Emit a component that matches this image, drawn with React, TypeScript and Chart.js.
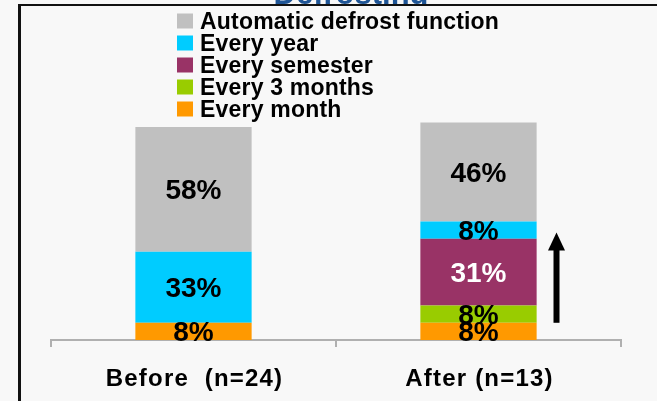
import React, { useEffect, useRef } from "react";
import { Chart, registerables } from "chart.js";

Chart.register(...registerables);

const title = "Defrosting";
const categories = ["Before  (n=24)", "After (n=13)"];
const seriesNames = ["Every month", "Every 3 months", "Every semester", "Every year", "Automatic defrost function"];
const everyMonth = [8, 8];
const every3Months = [0, 8];
const everySemester = [0, 31];
const everyYear = [33, 8];
const automaticDefrost = [58, 46];
const seriesColors = ["#FF9900", "#99CC00", "#993366", "#00CCFF", "#C0C0C0"];
const labelColors = ["#000000", "#000000", "#FFFFFF", "#000000", "#000000"];
const arrowFrom = 8;
const arrowTo = 50;

const FONT = '"Liberation Sans", Arial, Helvetica, sans-serif';

const decorPlugin = {
  id: "decor",
  beforeDraw(chart: any) {
    const ctx = chart.ctx as CanvasRenderingContext2D;
    const w = chart.width;
    const h = chart.height;
    ctx.save();
    ctx.fillStyle = "#f8f8f8";
    ctx.fillRect(0, 0, w, h);
    ctx.beginPath();
    ctx.rect(0, 0, w, 5);
    ctx.clip();
    ctx.fillStyle = "#1F5596";
    ctx.font = `bold 31px ${FONT}`;
    ctx.textAlign = "center";
    ctx.textBaseline = "alphabetic";
    ctx.fillText(title, 351, 4);
    ctx.restore();
    ctx.save();
    ctx.fillStyle = "#111111";
    ctx.fillRect(18, 4, w - 18, 2);
    ctx.fillRect(18, 4, 3, h - 4);
    ctx.restore();
  },
  afterDatasetsDraw(chart: any) {
    const ctx = chart.ctx as CanvasRenderingContext2D;
    ctx.save();
    ctx.font = `bold 28px ${FONT}`;
    ctx.textAlign = "center";
    ctx.textBaseline = "alphabetic";
    chart.data.datasets.forEach((ds: any, di: number) => {
      const meta = chart.getDatasetMeta(di);
      meta.data.forEach((bar: any, i: number) => {
        const v = ds.data[i];
        if (!v) return;
        const { x, y, base } = bar.getProps(["x", "y", "base"], true);
        const cy = (y + base) / 2;
        ctx.fillStyle = labelColors[di];
        ctx.fillText(`${v}%`, x, cy + 10);
      });
    });
    ctx.restore();
  },
  afterDraw(chart: any) {
    const ctx = chart.ctx as CanvasRenderingContext2D;
    const xs = chart.scales.x;
    const ys = chart.scales.y;
    // legend (reversed order)
    ctx.save();
    ctx.font = `bold 23px ${FONT}`;
    (ctx as any).letterSpacing = "0.2px";
    ctx.textAlign = "left";
    ctx.textBaseline = "alphabetic";
    const n = seriesNames.length;
    for (let r = 0; r < n; r++) {
      const di = n - 1 - r;
      const cy = 21 + r * 22;
      ctx.fillStyle = seriesColors[di];
      ctx.fillRect(177, cy - 7.5, 16, 15);
      ctx.fillStyle = "#000000";
      ctx.fillText(seriesNames[di], 200, cy + 8);
    }
    ctx.restore();
    // x labels
    ctx.save();
    ctx.font = `bold 24px ${FONT}`;
    (ctx as any).letterSpacing = "1.2px";
    ctx.textAlign = "center";
    ctx.textBaseline = "alphabetic";
    ctx.fillStyle = "#000000";
    categories.forEach((c, i) => {
      ctx.fillText(c, xs.getPixelForValue(i) + 1, 386);
    });
    ctx.restore();
    // arrow
    const ax = xs.getPixelForValue(1) + 78;
    const yTop = ys.getPixelForValue(arrowTo);
    const yBot = ys.getPixelForValue(arrowFrom);
    ctx.save();
    ctx.fillStyle = "#000000";
    ctx.fillRect(ax - 3, yTop + 16, 6, yBot - yTop - 16);
    ctx.beginPath();
    ctx.moveTo(ax, yTop);
    ctx.lineTo(ax + 8.5, yTop + 18);
    ctx.lineTo(ax - 8.5, yTop + 18);
    ctx.closePath();
    ctx.fill();
    ctx.restore();
  },
};

export default function App() {
  const ref = useRef<HTMLCanvasElement | null>(null);
  useEffect(() => {
    if (!ref.current) return;
    const seriesData = [everyMonth, every3Months, everySemester, everyYear, automaticDefrost];
    const chart = new Chart(ref.current, {
      type: "bar",
      data: {
        labels: categories,
        datasets: seriesNames.map((name, i) => ({
          label: name,
          data: seriesData[i],
          backgroundColor: seriesColors[i],
          borderWidth: 0,
          barPercentage: 0.408,
          categoryPercentage: 1,
        })),
      },
      options: {
        responsive: false,
        animation: false,
        devicePixelRatio: 1,
        layout: { padding: { left: 51, right: 36, top: 114, bottom: 54 } },
        plugins: {
          legend: { display: false },
          tooltip: { enabled: false },
          title: { display: false },
        },
        scales: {
          x: {
            stacked: true,
            offset: true,
            grid: {
              display: true,
              drawOnChartArea: false,
              drawTicks: true,
              tickLength: 7,
              color: "#B0B0B0",
              lineWidth: 2,
              offset: true,
            },
            border: { display: true, color: "#B0B0B0", width: 2 },
            ticks: { display: false },
          },
          y: {
            stacked: true,
            display: false,
            min: 0,
            max: 105,
          },
        },
      },
      plugins: [decorPlugin],
    });
    return () => chart.destroy();
  }, []);
  return (
    <div style={{ position: "absolute", left: 0, top: 0, width: 657, height: 401 }}>
      <canvas ref={ref} width={657} height={401} style={{ display: "block" }} />
    </div>
  );
}
